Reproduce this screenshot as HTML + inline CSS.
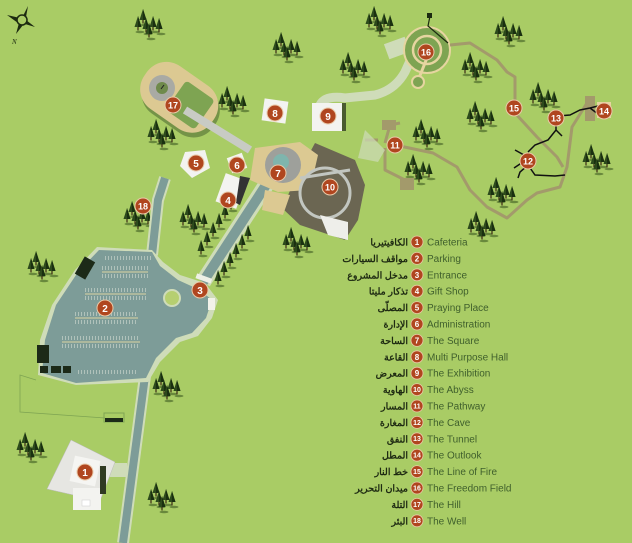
<!DOCTYPE html>
<html><head><meta charset="utf-8">
<style>
html,body{margin:0;padding:0;background:#a9cc65;}
svg{display:block}
.en{font-family:"Liberation Sans",sans-serif;font-size:10px;fill:#3f5f2c}
.ar{font-family:"Liberation Sans","Noto Sans CJK SC",sans-serif;font-size:9.5px;font-weight:bold;fill:#1e2a12}
.mn{font-family:"Liberation Sans",sans-serif;font-weight:bold;fill:#fff;text-anchor:middle}
</style></head><body>
<svg width="632" height="543" viewBox="0 0 632 543" xmlns="http://www.w3.org/2000/svg">
<defs>
<g id="t">
  <ellipse cx="2" cy="9" rx="4.5" ry="1.3" fill="#3d5a22" opacity="0.6"/>
  <path d="M0,-7 L3.5,4 L-3.5,4 Z" fill="#2d4a1c"/>
  <path d="M0,-7 L3.5,4 L0,4 Z" fill="#1a3010"/>
  <rect x="-0.6" y="4" width="1.2" height="3.5" fill="#3a2a15"/>
</g>
<g id="c">
  <use href="#t" x="8" y="6"/>
  <use href="#t" x="3" y="13"/>
  <use href="#t" x="11" y="15"/>
  <use href="#t" x="18" y="13"/>
  <use href="#t" x="24" y="15"/>
  <use href="#t" x="14" y="20"/>
</g>
<g id="m"><circle r="8" fill="#b0461f" stroke="#e9c9a8" stroke-width="1"/></g>
<g id="s"><circle r="6" fill="#b0461f" stroke="#e9c9a8" stroke-width="0.8"/></g>
</defs>
<rect width="632" height="543" fill="#a9cc65"/>

<!-- compass -->
<g transform="translate(22,20)" fill="#1c2a10">
  <path d="M-15,-5 L-2,-2 L-4,3 Z"/>
  <path d="M6,-14 L4,-3 L1,-4 Z"/>
  <path d="M13,7 L3,4 L4,0 Z"/>
  <path d="M-6,14 L-3,3 L1,5 Z"/>
  <circle r="5" fill="#a9cc65" stroke="#1c2a10" stroke-width="1.5"/>
  <text x="-10" y="24" font-family="Liberation Serif" font-size="7" font-style="italic">N</text>
</g>

<!-- trees -->
<use href="#c" x="135" y="10"/>
<use href="#c" x="273" y="33"/>
<use href="#c" x="340" y="53"/>
<use href="#c" x="219" y="87"/>
<use href="#c" x="148" y="120"/>
<use href="#c" x="180" y="205"/>
<use href="#c" x="283" y="228"/>
<use href="#c" x="124" y="202"/>
<use href="#c" x="366" y="7"/>
<use href="#c" x="495" y="17"/>
<use href="#c" x="462" y="53"/>
<use href="#c" x="530" y="83"/>
<use href="#c" x="467" y="102"/>
<use href="#c" x="413" y="120"/>
<use href="#c" x="405" y="155"/>
<use href="#c" x="583" y="145"/>
<use href="#c" x="488" y="178"/>
<use href="#c" x="468" y="212"/>
<use href="#c" x="28" y="252"/>
<use href="#c" x="153" y="372"/>
<use href="#c" x="17" y="433"/>
<use href="#c" x="148" y="483"/>

<!-- bottom road -->
<path d="M145,376 L123,543" stroke="#cfdcb9" stroke-width="12" fill="none"/>
<path d="M145,376 L123,543" stroke="#7d9c98" stroke-width="8" fill="none"/>
<!-- upper road -->
<path d="M165,178 L158,200 L152,255" stroke="#cfdcb9" stroke-width="12" fill="none"/>
<path d="M165,178 L158,200 L152,255" stroke="#7d9c98" stroke-width="8" fill="none"/>

<!-- parking -->
<path d="M163,262 L180,275 L205,283 L218,300 L212,318 L198,336 L180,342 L160,362 L148,382 L76,385 L38,375 L40,340 L52,305 L75,270 L97,247 L152,250 Z" fill="#cfdcb9"/>
<path d="M160,266 L178,280 L200,290 L212,300 L206,318 L192,333 L176,338 L156,358 L146,378 L76,383 L42,373 L45,340 L56,305 L78,272 L99,250 L152,252 Z" fill="#7d9c98"/>
<g stroke="#bccbc4" stroke-width="4" stroke-dasharray="0.8 2.2">
<line x1="105" y1="258" x2="152" y2="258"/>
<line x1="102" y1="268" x2="148" y2="268"/>
<line x1="102" y1="276" x2="148" y2="276"/>
<line x1="85" y1="290" x2="146" y2="290"/>
<line x1="85" y1="298" x2="146" y2="298"/>
<line x1="75" y1="314" x2="138" y2="314"/>
<line x1="75" y1="322" x2="138" y2="322"/>
<line x1="62" y1="338" x2="140" y2="338"/>
<line x1="62" y1="346" x2="140" y2="346"/>
<line x1="78" y1="372" x2="138" y2="372"/>
</g>
<g stroke="#c9c9a0" stroke-width="1.2">
<line x1="102" y1="272" x2="148" y2="272"/>
<line x1="85" y1="294" x2="146" y2="294"/>
<line x1="75" y1="318" x2="138" y2="318"/>
<line x1="62" y1="342" x2="140" y2="342"/>
</g>
<circle cx="172" cy="298" r="8" fill="#b6cf70" stroke="#cfdcb9" stroke-width="2"/>
<rect x="79" y="258" width="12" height="20" fill="#1c2a18" transform="rotate(30 85 268)"/>
<rect x="37" y="345" width="12" height="18" fill="#1c2a18"/>
<rect x="40" y="366" width="8" height="7" fill="#1c2a18"/>
<rect x="51" y="366" width="10" height="7" fill="#1c2a18"/>
<rect x="63" y="366" width="8" height="7" fill="#1c2a18"/>
<path d="M36,380 L20,375 L20,412 L105,418" stroke="#7ea452" stroke-width="0.8" fill="none"/>
<rect x="104" y="413" width="20" height="9" fill="none" stroke="#7ea452" stroke-width="1"/>
<rect x="105" y="418" width="18" height="4" fill="#1c2a18"/>
<rect x="208" y="298" width="7" height="12" fill="#f2f2ea"/>

<!-- cafeteria -->
<rect x="105" y="463" width="22" height="14" fill="#cfdcb9"/>
<path d="M71,440 L115,462 L100,501 L47,489 Z" fill="#e6e6e2" stroke="#bbb" stroke-width="0.5"/>
<rect x="73" y="488" width="28" height="22" fill="#f3f3f0"/>
<rect x="100" y="466" width="6" height="28" fill="#2f3a22"/>
<rect x="72" y="458" width="26" height="26" fill="#f5f5f2" transform="rotate(12 85 471)"/>
<rect x="82" y="500" width="8" height="6" fill="#fff" stroke="#ccc" stroke-width="0.5"/>

<!-- diagonal walkway -->
<path d="M203,282 L268,182" stroke="#cfdcb9" stroke-width="16" fill="none"/>
<path d="M203,282 L268,182" stroke="#7d9c98" stroke-width="10" fill="none"/>
<rect x="196" y="276" width="16" height="5" fill="#eef0e6" transform="rotate(20 204 278)"/>
<use href="#t" x="201" y="247"/><use href="#t" x="207" y="238"/><use href="#t" x="213" y="229"/><use href="#t" x="219" y="220"/><use href="#t" x="225" y="211"/><use href="#t" x="231" y="202"/>
<use href="#t" x="218" y="277"/><use href="#t" x="224" y="268"/><use href="#t" x="230" y="259"/><use href="#t" x="236" y="250"/><use href="#t" x="242" y="241"/><use href="#t" x="248" y="232"/>

<!-- grey path to 16 -->
<path d="M320,105 Q325,95 345,98 L375,95 Q395,90 405,72 L415,50" stroke="#cfdcb9" stroke-width="9" fill="none"/>
<rect x="386" y="40" width="22" height="16" fill="#cfdcb9" transform="rotate(-20 397 48)"/>
<circle cx="427" cy="50" r="23" fill="#7ea452" stroke="#e6d5a0" stroke-width="2"/>
<circle cx="427" cy="50" r="14" fill="none" stroke="#e6d5a0" stroke-width="2.5"/>
<line x1="427" y1="58" x2="419" y2="78" stroke="#e6d5a0" stroke-width="3"/>
<circle cx="418" cy="82" r="6" fill="#7ea452" stroke="#e6d5a0" stroke-width="2"/>
<path d="M448,43 L428,26 L430,16" stroke="#1c2a10" stroke-width="1.2" fill="none"/>
<rect x="427" y="13" width="5" height="5" fill="#1c2a10"/>

<!-- trails -->
<g stroke="#a39a6b" stroke-width="3" fill="none" stroke-linejoin="round">
<path d="M450,45 L470,43 L497,60 L507,72 L515,77 L515,113 L537,137 L557,157 L563,167"/>
<path d="M395,145 L433,153 L457,167 L470,190 L487,207 L507,218 L527,200 L537,193 L560,187 L567,167 L572,127 L587,103 L590,97"/>
<path d="M378,140 L365,140 M385,143 L390,125 L400,123 M385,148 L385,170 L405,180 L408,188"/>
</g>
<g fill="#a39a6b"><rect x="382" y="120" width="14" height="10"/><rect x="400" y="178" width="14" height="12"/><rect x="585" y="96" width="10" height="25"/></g>
<path d="M365,130 L385,150 L378,162 L358,158 Z" fill="#cfdcb9" opacity="0.7"/>
<rect x="597" y="102" width="14" height="16" fill="#e6d5a0"/>
<g stroke="#111" stroke-width="1.5" fill="none">
<path d="M558,116 L570,115 L580,110 L590,108 L598,106 M590,108 L598,114"/>
<path d="M556,120 L556,130 L562,136 M556,130 L548,140 L535,145 L528,152 M528,165 L535,175 L555,176 L565,175 M528,165 L520,172 L518,178 M524,155 L515,150 M523,162 L514,168"/>
</g>

<!-- hill 17 -->
<g transform="rotate(35 177 97)">
<rect x="138" y="70" width="82" height="52" rx="24" fill="#3f5a2a" opacity="0.5" transform="translate(4,3)"/>
<rect x="138" y="70" width="82" height="52" rx="24" fill="#dcc992"/>
<rect x="175" y="78" width="35" height="36" rx="4" fill="#7ea452"/>
</g>
<circle cx="162" cy="88" r="13" fill="#a9aaa4"/>
<circle cx="162" cy="88" r="6" fill="#6f8a4c"/>
<line x1="161" y1="89" x2="164" y2="85" stroke="#222" stroke-width="1"/>
<path d="M185,110 L250,150" stroke="#c8cbc4" stroke-width="8"/>

<!-- central complex -->
<path d="M315,143 L355,160 L365,185 L358,220 L345,240 L300,225 L282,208 L295,180 Z" fill="#6b6652"/>
<path d="M255,148 L300,142 L318,155 L310,190 L278,192 L250,180 Z" fill="#dcc992"/>
<circle cx="283" cy="165" r="18" fill="#9ea09b"/>
<circle cx="281" cy="162" r="8" fill="#7fb5ad"/>
<circle cx="325" cy="193" r="25" fill="#6b6652" stroke="#c2c6c0" stroke-width="3"/>
<path d="M300,178 L350,170" stroke="#c2c6c0" stroke-width="3"/>
<path d="M320,215 L348,222 L348,240 L328,235 Z" fill="#eeeeea"/>
<path d="M265,190 L290,195 L283,215 L262,210 Z" fill="#dcc992"/>
<rect x="263" y="100" width="24" height="22" fill="#f3f3f0" transform="rotate(8 275 111)"/>
<rect x="312" y="103" width="30" height="28" fill="#f3f3f0"/>
<rect x="342" y="103" width="4" height="28" fill="#4a5a30"/>
<path d="M185,152 L205,150 L210,168 L192,178 L180,166 Z" fill="#f3f3f0"/>
<rect x="229" y="155" width="16" height="16" fill="#f3f3f0" transform="rotate(-20 237 163)"/>
<rect x="220" y="176" width="22" height="30" fill="#f3f3f0" transform="rotate(20 231 191)"/>
<path d="M240,176 L250,178 L240,205 L236,203 Z" fill="#333"/>

<!-- map markers -->
<g font-size="10">
<use href="#m" x="85" y="472"/><text class="mn" x="85" y="476">1</text>
<use href="#m" x="105" y="308"/><text class="mn" x="105" y="312">2</text>
<use href="#m" x="200" y="290"/><text class="mn" x="200" y="294">3</text>
<use href="#m" x="228" y="200"/><text class="mn" x="228" y="204">4</text>
<use href="#m" x="196" y="163"/><text class="mn" x="196" y="167">5</text>
<use href="#m" x="237" y="165"/><text class="mn" x="237" y="169">6</text>
<use href="#m" x="278" y="173"/><text class="mn" x="278" y="177">7</text>
<use href="#m" x="275" y="113"/><text class="mn" x="275" y="117">8</text>
<use href="#m" x="328" y="116"/><text class="mn" x="328" y="120">9</text>
</g>
<g font-size="9">
<use href="#m" x="330" y="187"/><text class="mn" x="330" y="190.5">10</text>
<use href="#m" x="395" y="145"/><text class="mn" x="395" y="148.5">11</text>
<use href="#m" x="528" y="161"/><text class="mn" x="528" y="164.5">12</text>
<use href="#m" x="556" y="118"/><text class="mn" x="556" y="121.5">13</text>
<use href="#m" x="604" y="111"/><text class="mn" x="604" y="114.5">14</text>
<use href="#m" x="514" y="108"/><text class="mn" x="514" y="111.5">15</text>
<use href="#m" x="426" y="52"/><text class="mn" x="426" y="55.5">16</text>
<use href="#m" x="173" y="105"/><text class="mn" x="173" y="108.5">17</text>
<use href="#m" x="143" y="206"/><text class="mn" x="143" y="209.5">18</text>
</g>

<!-- legend -->
<g font-size="8">
<use href="#s" x="417" y="242"/><text class="mn" x="417" y="245">1</text>
<use href="#s" x="417" y="258.4"/><text class="mn" x="417" y="261.4">2</text>
<use href="#s" x="417" y="274.8"/><text class="mn" x="417" y="277.8">3</text>
<use href="#s" x="417" y="291.2"/><text class="mn" x="417" y="294.2">4</text>
<use href="#s" x="417" y="307.6"/><text class="mn" x="417" y="310.6">5</text>
<use href="#s" x="417" y="324"/><text class="mn" x="417" y="327">6</text>
<use href="#s" x="417" y="340.4"/><text class="mn" x="417" y="343.4">7</text>
<use href="#s" x="417" y="356.8"/><text class="mn" x="417" y="359.8">8</text>
<use href="#s" x="417" y="373.2"/><text class="mn" x="417" y="376.2">9</text>
</g>
<g font-size="7">
<use href="#s" x="417" y="389.6"/><text class="mn" x="417" y="392">10</text>
<use href="#s" x="417" y="406"/><text class="mn" x="417" y="408.4">11</text>
<use href="#s" x="417" y="422.4"/><text class="mn" x="417" y="424.8">12</text>
<use href="#s" x="417" y="438.8"/><text class="mn" x="417" y="441.2">13</text>
<use href="#s" x="417" y="455.2"/><text class="mn" x="417" y="457.6">14</text>
<use href="#s" x="417" y="471.6"/><text class="mn" x="417" y="474">15</text>
<use href="#s" x="417" y="488"/><text class="mn" x="417" y="490.4">16</text>
<use href="#s" x="417" y="504.4"/><text class="mn" x="417" y="506.8">17</text>
<use href="#s" x="417" y="520.8"/><text class="mn" x="417" y="523.2">18</text>
</g>
<g class="en">
<text x="427" y="245.5">Cafeteria</text>
<text x="427" y="261.9">Parking</text>
<text x="427" y="278.3">Entrance</text>
<text x="427" y="294.7">Gift Shop</text>
<text x="427" y="311.1">Praying Place</text>
<text x="427" y="327.5">Administration</text>
<text x="427" y="343.9">The Square</text>
<text x="427" y="360.3">Multi Purpose Hall</text>
<text x="427" y="376.7">The Exhibition</text>
<text x="427" y="393.1">The Abyss</text>
<text x="427" y="409.5">The Pathway</text>
<text x="427" y="425.9">The Cave</text>
<text x="427" y="442.3">The Tunnel</text>
<text x="427" y="458.7">The Outlook</text>
<text x="427" y="475.1">The Line of Fire</text>
<text x="427" y="491.5">The Freedom Field</text>
<text x="427" y="507.9">The Hill</text>
<text x="427" y="524.3">The Well</text>
</g>
<g class="ar" text-anchor="end">
<text x="408" y="245.5">الكافيتيريا</text>
<text x="408" y="261.9">مواقف السيارات</text>
<text x="408" y="278.3">مدخل المشروع</text>
<text x="408" y="294.7">تذكار مليتا</text>
<text x="408" y="311.1">المصلّى</text>
<text x="408" y="327.5">الإدارة</text>
<text x="408" y="343.9">الساحة</text>
<text x="408" y="360.3">القاعة</text>
<text x="408" y="376.7">المعرض</text>
<text x="408" y="393.1">الهاوية</text>
<text x="408" y="409.5">المسار</text>
<text x="408" y="425.9">المغارة</text>
<text x="408" y="442.3">النفق</text>
<text x="408" y="458.7">المطل</text>
<text x="408" y="475.1">خط النار</text>
<text x="408" y="491.5">ميدان التحرير</text>
<text x="408" y="507.9">التلة</text>
<text x="408" y="524.3">البئر</text>
</g>
</svg>
</body></html>
